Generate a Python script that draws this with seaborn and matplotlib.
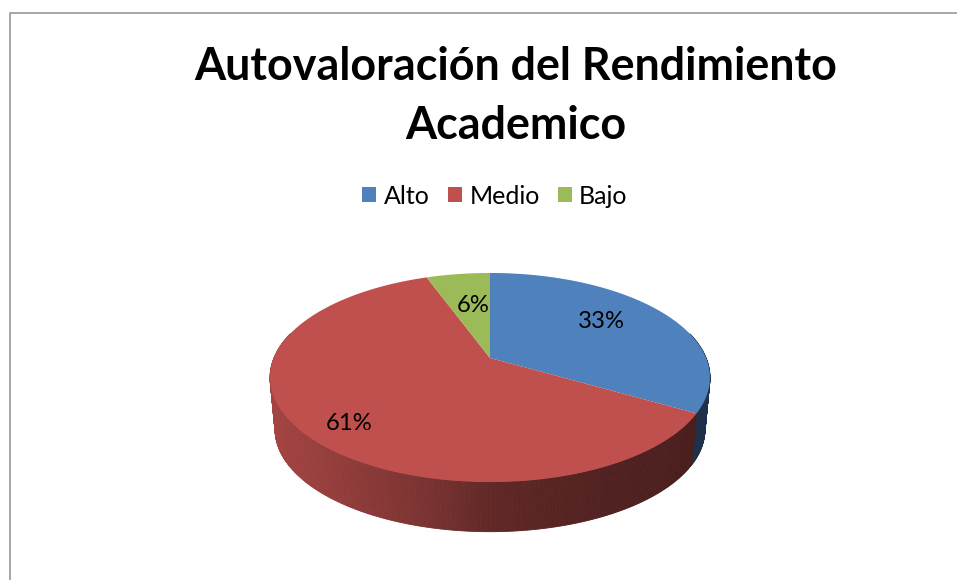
import numpy as np
import seaborn as sns
import matplotlib
matplotlib.use('Agg')
import matplotlib.pyplot as plt
from matplotlib.patches import Patch

categories = ['Alto', 'Medio', 'Bajo']
shares = [33.3, 61.1, 5.6]
pct_labels = ['33%', '61%', '6%']
title = 'Autovaloración del Rendimiento\nAcademico'

colors = sns.color_palette(['#4F81BD', '#C0504D', '#9BBB59'])
label_pos = [(601, 322), (349, 424), (473, 305)]

sns.set_theme(style='white')
plt.rcParams['font.family'] = ['Lato', 'DejaVu Sans']

# disc geometry in pixels, k is the perspective of the tilted pie
cx, apex_y = 490, 358
k, rx, ry = 0.1866, 216.1, 100.9
depth, bottom_scale = 52.5, 0.977


def rim(t, scale=1.0, dy=0.0):
    d = 1 + k * np.sin(t)
    return cx + scale * rx * np.cos(t) / d, apex_y + dy - scale * ry * np.sin(t) / d


def shade(x):
    return np.interp(x, [270, 340, 430, 490, 600, 700], [0.86, 0.76, 0.63, 0.5, 0.42, 0.38])


fig = plt.figure(figsize=(9.57, 5.8), dpi=100)
ax = fig.add_axes([0, 0, 1, 1])
ax.set_xlim(0, 957)
ax.set_ylim(580, 0)
ax.axis('off')

# slice limits, clockwise from twelve o'clock
edges = np.pi / 2 - 2 * np.pi * np.cumsum([0] + shares) / sum(shares)

# side wall first, only the front part shows
for i, color in enumerate(colors):
    ts = np.linspace(edges[i], edges[i + 1], 400)
    for a, b in zip(ts[:-1], ts[1:]):
        if np.sin((a + b) / 2) > 0.25:
            continue
        x1, y1 = rim(np.array([a, b]))
        x2, y2 = rim(np.array([b, a]), bottom_scale, depth)
        c = np.array(color) * shade((x1.mean() + x2.mean()) / 2)
        ax.fill(np.r_[x1, x2], np.r_[y1, y2], color=c, lw=0.6, zorder=1)

# top of the pie
for i, color in enumerate(colors):
    ts = np.linspace(edges[i], edges[i + 1], 200)
    x, y = rim(ts)
    ax.fill(np.r_[cx, x], np.r_[apex_y, y], color=color, lw=0, zorder=2)
    ax.text(*label_pos[i], pct_labels[i], ha='center', va='center', fontsize=17.2, color='black', zorder=3)

# chart frame, only top and left are inside the crop
ax.plot([9.5, 9.5, 957], [580, 12.5, 12.5], color='#A0A0A0', lw=1.3, zorder=0)

ax.text(515.5, 96.5, title, ha='center', va='center', fontsize=32.3, fontweight='bold',
        color='black', linespacing=1.52)

handles = [Patch(facecolor=c, edgecolor='none') for c in colors]
ax.legend(handles, categories, loc='center', bbox_to_anchor=(495 / 957, 1 - 196 / 580), ncol=3,
          frameon=False, fontsize=18, handlelength=0.56, handleheight=0.56, handletextpad=0.3,
          columnspacing=0.72, borderpad=0, labelcolor='black')

fig.savefig('out.png', dpi=100)
